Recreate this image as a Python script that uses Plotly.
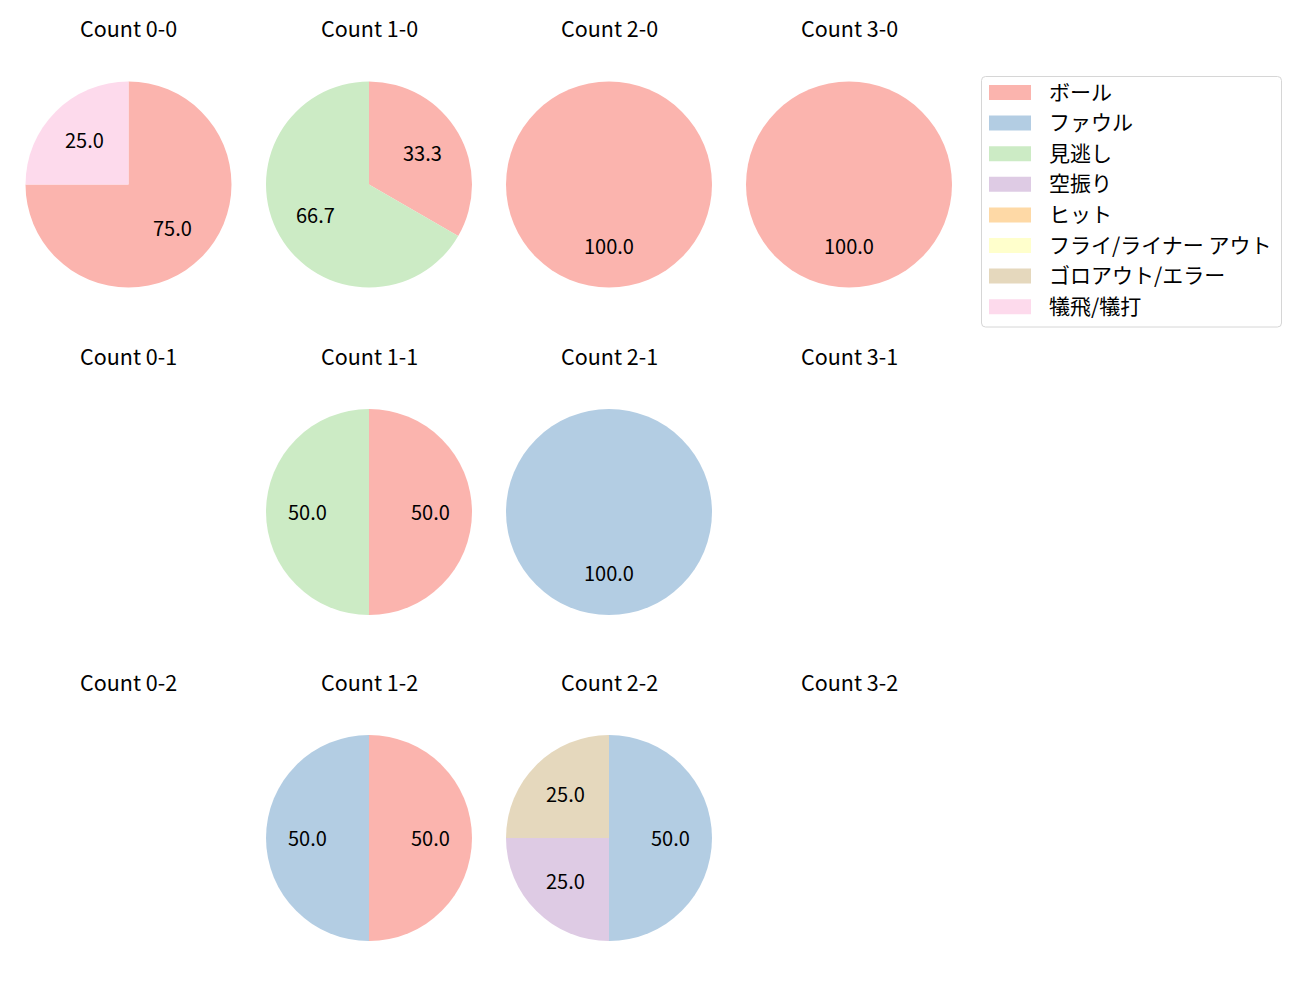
import math
import plotly.graph_objects as go

# ---- data ----
categories = ["ボール", "ファウル", "見逃し", "空振り", "ヒット",
              "フライ/ライナー アウト", "ゴロアウト/エラー", "犠飛/犠打"]
colors = ["#fbb4ae", "#b3cde3", "#ccebc5", "#decbe4", "#fed9a6",
          "#ffffcc", "#e5d8bd", "#fddaec"]
count_titles = [["Count 0-0", "Count 1-0", "Count 2-0", "Count 3-0"],
                ["Count 0-1", "Count 1-1", "Count 2-1", "Count 3-1"],
                ["Count 0-2", "Count 1-2", "Count 2-2", "Count 3-2"]]
# counts per category for each panel (None = no pitches)
count_0_0 = [3, 0, 0, 0, 0, 0, 0, 1]
count_1_0 = [1, 0, 2, 0, 0, 0, 0, 0]
count_2_0 = [1, 0, 0, 0, 0, 0, 0, 0]
count_3_0 = [1, 0, 0, 0, 0, 0, 0, 0]
count_0_1 = None
count_1_1 = [1, 0, 1, 0, 0, 0, 0, 0]
count_2_1 = [0, 1, 0, 0, 0, 0, 0, 0]
count_3_1 = None
count_0_2 = None
count_1_2 = [1, 1, 0, 0, 0, 0, 0, 0]
count_2_2 = [0, 2, 0, 1, 0, 0, 1, 0]
count_3_2 = None
panels = [[count_0_0, count_1_0, count_2_0, count_3_0],
          [count_0_1, count_1_1, count_2_1, count_3_1],
          [count_0_2, count_1_2, count_2_2, count_3_2]]

# ---- layout constants (pixels) ----
W, H = 1300, 1000
col_cx = [128.5, 369.0, 609.0, 849.0]
row_cy = [184.5, 512.0, 838.0]
R = 103.0
title_dy = 157.0
FONT = "Noto Sans CJK JP"
TXT = 21.5
LBL = 20
LEG = 21

def px(x):
    return x / W

def py(y):
    return 1 - y / H

fig = go.Figure()
annotations = []
shapes = []

for r, row in enumerate(panels):
    for c, vals in enumerate(row):
        cx, cy = col_cx[c], row_cy[r]
        annotations.append(dict(
            x=px(cx), y=py(cy - title_dy), xref="paper", yref="paper",
            text=count_titles[r][c], showarrow=False,
            font=dict(family=FONT, size=TXT, color="#000000"),
            xanchor="center", yanchor="middle"))
        if vals is None:
            continue
        labs = [categories[i] for i, v in enumerate(vals) if v > 0]
        vs = [v for v in vals if v > 0]
        cols = [colors[i] for i, v in enumerate(vals) if v > 0]
        fig.add_trace(go.Pie(
            labels=labs, values=vs, marker=dict(colors=cols, line=dict(width=0)),
            sort=False, direction="clockwise", rotation=0,
            textinfo="none", showlegend=False,
            domain=dict(x=[px(cx - R), px(cx + R)], y=[py(cy + R), py(cy - R)])))
        tot = sum(vs)
        cum = 0
        for v in vs:
            frac = v / tot
            th = math.radians(90 - 360 * (cum + frac / 2))
            tx = cx + 0.6 * R * math.cos(th)
            ty = cy - 0.6 * R * math.sin(th) - 1
            annotations.append(dict(
                x=px(tx), y=py(ty), xref="paper", yref="paper",
                text=f"{100 * frac:.1f}", showarrow=False,
                font=dict(family=FONT, size=LBL, color="#000000"),
                xanchor="center", yanchor="middle"))
            cum += frac

# ---- legend (manual, matplotlib style) ----
lx0, ly0, lx1, ly1 = 981.5, 76.5, 1281.5, 327.0
rad = 4
path = (f"M {px(lx0+rad)} {py(ly0)} L {px(lx1-rad)} {py(ly0)} "
        f"Q {px(lx1)} {py(ly0)} {px(lx1)} {py(ly0+rad)} "
        f"L {px(lx1)} {py(ly1-rad)} Q {px(lx1)} {py(ly1)} {px(lx1-rad)} {py(ly1)} "
        f"L {px(lx0+rad)} {py(ly1)} Q {px(lx0)} {py(ly1)} {px(lx0)} {py(ly1-rad)} "
        f"L {px(lx0)} {py(ly0+rad)} Q {px(lx0)} {py(ly0)} {px(lx0+rad)} {py(ly0)} Z")
shapes.append(dict(type="path", xref="paper", yref="paper", path=path,
                   line=dict(color="#d6d6d6", width=1), fillcolor="rgba(255,255,255,0.8)"))
first_y, step = 92.5, 30.6
for i, (name, col) in enumerate(zip(categories, colors)):
    yc = first_y + i * step
    shapes.append(dict(type="rect", xref="paper", yref="paper",
                       x0=px(989), x1=px(1031), y0=py(yc - 7.5), y1=py(yc + 7.5),
                       line=dict(width=0), fillcolor=col))
    annotations.append(dict(
        x=px(1047), y=py(yc - 2), xref="paper", yref="paper", text=name,
        showarrow=False, xanchor="left", yanchor="middle",
        font=dict(family=FONT, size=LEG, color="#000000")))

fig.update_layout(
    width=W, height=H, autosize=False,
    margin=dict(l=0, r=0, t=0, b=0),
    paper_bgcolor="white", plot_bgcolor="white",
    annotations=annotations, shapes=shapes, showlegend=False)

fig.write_html("out.html")
